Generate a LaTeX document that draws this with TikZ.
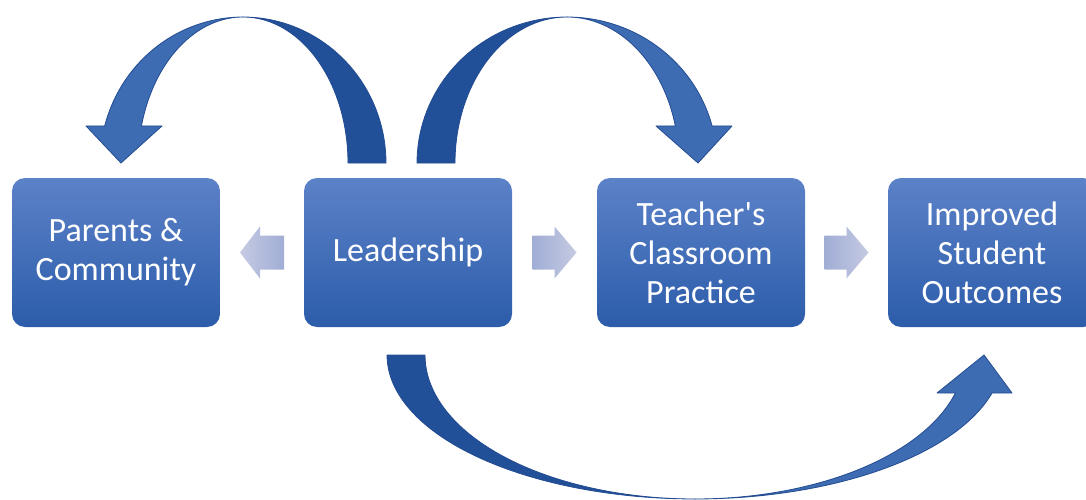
\documentclass[tikz,border=0pt]{standalone}
\usepackage{fontspec}
\setmainfont{Carlito}
\usetikzlibrary{calc}
\definecolor{boxtop}{RGB}{92,130,200}
\definecolor{boxbot}{RGB}{44,92,170}
\definecolor{arcdark}{RGB}{33,80,152}
\definecolor{arclight}{RGB}{62,108,178}
\definecolor{arcline}{RGB}{36,76,146}
\definecolor{satail}{RGB}{160,173,213}
\definecolor{sahead}{RGB}{198,202,226}
\begin{document}
\begin{tikzpicture}[x=1pt,y=-1pt,
  box/.style={rounded corners=13pt, minimum width=208pt, minimum height=149pt,
    top color=boxtop, bottom color=boxbot, text=white, align=center,
    font=\fontsize{34}{39}\selectfont, inner sep=0pt},
  darkband/.style={fill=arcdark, draw=arcline, line width=0.8pt, line join=round},
  lightband/.style={fill=arclight, draw=arcline, line width=0.8pt, line join=round}]
\useasboundingbox (0,0) rectangle (1086,500);
\clip (0,0) rectangle (1086,500);

% boxes
\node[box] (par) at (116,252.5) {Parents \&\\Community};
\node[box] (lead) at (408,252.5) {Leadership};
\node[box] (teach) at (701,252.5) {Teacher\textquotesingle s\\Classroom\\Practice};
\node[box] (impr) at (992,252.5) {Improved\\Student\\Outcomes};

% small block arrows between the boxes
\coordinate (c1) at ($(par.east)!0.5!(lead.west)$);
\coordinate (c2) at ($(lead.east)!0.5!(teach.west)$);
\coordinate (c3) at ($(teach.east)!0.5!(impr.west)$);
\path[shift={(c1)}, left color=sahead, right color=satail]
  (-22,0) -- (-2,-26) -- (-2,-17) -- (22,-17) -- (22,17) -- (-2,17) -- (-2,26) -- cycle;
\path[shift={(c2)}, left color=satail, right color=sahead]
  (22,0) -- (0,-26) -- (0,-17) -- (-22,-17) -- (-22,17) -- (0,17) -- (0,26) -- cycle;
\path[shift={(c3)}, left color=satail, right color=sahead]
  (22,0) -- (0,-26) -- (0,-17) -- (-22,-17) -- (-22,17) -- (0,17) -- (0,26) -- cycle;

% curved arrow: Leadership -> Parents & Community
\path[darkband]
  plot[domain=0:-90,samples=40,variable=\t]({243+143*cos(\t)},{163+146*sin(\t)})
  -- plot[domain=-90:0,samples=40,variable=\t]({243+105*cos(\t)},{163+146*sin(\t)})
  -- cycle;
\path[lightband]
  plot[domain=-90:-165.3,samples=40,variable=\t]({243+143*cos(\t)},{163+146*sin(\t)})
  -- (86,126) -- (121,163) -- (162,126)
  -- plot[domain=-165.3:-90,samples=40,variable=\t]({243+105*cos(\t)},{163+146*sin(\t)})
  -- cycle;

% curved arrow: Leadership -> Teacher's Classroom Practice
\path[darkband]
  plot[domain=180:270,samples=40,variable=\t]({567+150*cos(\t)},{163+146*sin(\t)})
  -- plot[domain=270:180,samples=40,variable=\t]({567+112*cos(\t)},{163+146*sin(\t)})
  -- cycle;
\path[lightband]
  plot[domain=270:345.3,samples=40,variable=\t]({567+150*cos(\t)},{163+146*sin(\t)})
  -- (732,126) -- (698,163) -- (656,126)
  -- plot[domain=345.3:270,samples=40,variable=\t]({567+112*cos(\t)},{163+146*sin(\t)})
  -- cycle;

% curved arrow: Leadership -> Improved Student Outcomes
\path[darkband]
  plot[domain=180:90,samples=50,variable=\t]({695+308*cos(\t)},{355+144*sin(\t)})
  -- plot[domain=90:180,samples=50,variable=\t]({695+270*cos(\t)},{355+144*sin(\t)})
  -- cycle;
\path[lightband]
  plot[domain=90:15.3,samples=50,variable=\t]({695+308*cos(\t)},{355+144*sin(\t)})
  -- (1012,393) -- (984,355) -- (937,393)
  -- plot[domain=15.3:90,samples=50,variable=\t]({695+270*cos(\t)},{355+144*sin(\t)})
  -- cycle;
\end{tikzpicture}
\end{document}
